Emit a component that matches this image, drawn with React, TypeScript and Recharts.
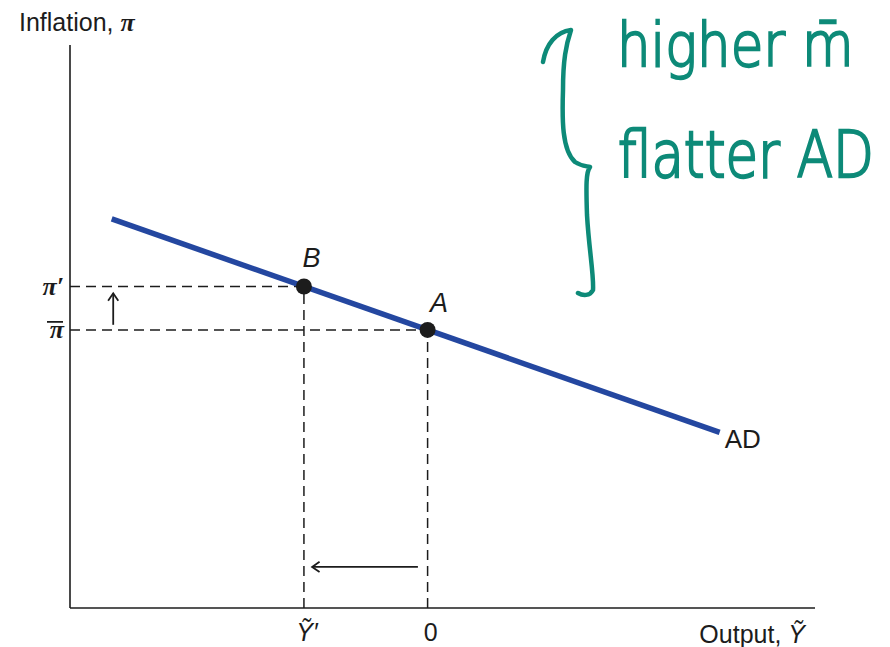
import { ComposedChart, Line, Scatter, XAxis, YAxis, ReferenceLine, LabelList, Label } from 'recharts';

// AD curve end points (output gap, inflation) in plot units
const adOutput = [5.6, 87.2];
const adInflation = [69.1, 31.2];

// equilibrium points on the curve
const pointNames = ['B', 'A'];
const pointOutput = [31.4, 48];
const pointInflation = [57.1, 49.4];

const outputTickLabels = ['Y\u0303\u2032', '0'];
const inflationTickLabels = ['\u03c0\u2032', '\u03c0'];
const noteLines = ['higher m\u0304', 'flatter AD'];

const adData = adOutput.map((x, i) => ({ x, y: adInflation[i] }));
const pointData = pointNames.map((name, i) => ({ name, x: pointOutput[i], y: pointInflation[i] }));

const SANS = '"Liberation Sans", Arial, sans-serif';
const SERIF = '"Liberation Serif", "Times New Roman", serif';
const HAND = '"DejaVu Sans", sans-serif';
const INK = '#1c1c1c';
const AD_BLUE = '#2447a0';
const PEN = '#0d8a78';

const dash = { stroke: INK, strokeWidth: 1.5, strokeDasharray: '10 6' };

function Arrow(props: any) {
  const { x1, y1, x2, y2 } = props;
  const ang = Math.atan2(y2 - y1, x2 - x1);
  const len = 9;
  const a1 = ang + Math.PI - 0.6;
  const a2 = ang + Math.PI + 0.6;
  return (
    <g stroke={INK} strokeWidth={1.8} fill="none">
      <line x1={x1} y1={y1} x2={x2} y2={y2} />
      <polyline
        points={`${x2 + len * Math.cos(a1)},${y2 + len * Math.sin(a1)} ${x2},${y2} ${x2 + len * Math.cos(a2)},${y2 + len * Math.sin(a2)}`}
      />
    </g>
  );
}

function InflationTick({ x, y, index }: any) {
  const right = x + 2;
  return (
    <g>
      <text x={right} y={y + 8} textAnchor="end" fontFamily={SERIF} fontStyle="italic" fontWeight="bold" fontSize={26} fill={INK}>
        {inflationTickLabels[index]}
      </text>
      {index === 1 && <line x1={right - 17} x2={right - 1} y1={y - 8} y2={y - 8} stroke={INK} strokeWidth={1.8} />}
    </g>
  );
}

function OutputTick({ x, y, index }: any) {
  const italic = index === 0;
  return (
    <text x={x + 3} y={y + 25} textAnchor="middle" fontFamily={SANS} fontStyle={italic ? 'italic' : 'normal'} fontSize={25} fill={INK}>
      {outputTickLabels[index]}
    </text>
  );
}

function PointLabel({ x, y, value, index }: any) {
  const dx = index === 0 ? 12 : 16;
  const dy = index === 0 ? -15 : -13;
  return (
    <text x={x + dx} y={y + dy} textAnchor="middle" fontFamily={SANS} fontStyle="italic" fontSize={27} fill={INK}>
      {value}
    </text>
  );
}

function CurveLabel({ x, y, index }: any) {
  if (index !== adData.length - 1) return null;
  return (
    <text x={x + 5} y={y + 16} fontFamily={SANS} fontSize={26} fill={INK}>
      AD
    </text>
  );
}

// up arrow next to the inflation ticks, left arrow above the output axis
const upArrowX = 5.8;
const leftArrowY = 7.3;

export default function App() {
  return (
    <div style={{ position: 'absolute', left: 0, top: 0, width: 890, height: 647, background: '#fff' }}>
      <ComposedChart width={890} height={647} margin={{ top: 45, right: 75, bottom: 0, left: 0 }}>
        <XAxis
          type="number"
          dataKey="x"
          domain={[0, 100]}
          ticks={pointOutput}
          tick={<OutputTick />}
          tickLine={false}
          axisLine={{ stroke: INK, strokeWidth: 1.6 }}
          height={39}
          interval={0}
        >
          <Label
            content={({ viewBox }: any) => (
              <text x={viewBox.x + viewBox.width - 10} y={viewBox.y + 35} textAnchor="end" fontFamily={SANS} fontSize={25} fill={INK}>
                Output,{' '}
                <tspan fontStyle="italic">{'Y\u0303'}</tspan>
              </text>
            )}
          />
        </XAxis>
        <YAxis
          type="number"
          dataKey="y"
          domain={[0, 100]}
          ticks={pointInflation}
          tick={<InflationTick />}
          tickLine={false}
          axisLine={{ stroke: INK, strokeWidth: 1.6 }}
          width={70}
          interval={0}
        >
          <Label
            content={({ viewBox }: any) => (
              <text x={viewBox.x + 19} y={viewBox.y - 14} fontFamily={SANS} fontSize={25} fill={INK}>
                Inflation,{' '}
                <tspan fontFamily={SERIF} fontStyle="italic" fontWeight="bold" fontSize={26}>
                  {'\u03c0'}
                </tspan>
              </text>
            )}
          />
        </YAxis>

        {/* guide lines from each point to both axes */}
        <ReferenceLine segment={[{ x: 0, y: pointInflation[0] }, { x: pointOutput[0], y: pointInflation[0] }]} {...dash} />
        <ReferenceLine segment={[{ x: 0, y: pointInflation[1] }, { x: pointOutput[1], y: pointInflation[1] }]} {...dash} />
        <ReferenceLine segment={[{ x: pointOutput[0], y: 0 }, { x: pointOutput[0], y: pointInflation[0] }]} {...dash} />
        <ReferenceLine segment={[{ x: pointOutput[1], y: 0 }, { x: pointOutput[1], y: pointInflation[1] }]} {...dash} />

        <ReferenceLine
          segment={[{ x: upArrowX, y: pointInflation[1] + 0.9 }, { x: upArrowX, y: pointInflation[0] - 1.2 }]}
          shape={<Arrow />}
        />
        <ReferenceLine
          segment={[{ x: pointOutput[1] - 1.3, y: leftArrowY }, { x: pointOutput[0] + 1.1, y: leftArrowY }]}
          shape={<Arrow />}
        />

        <Line data={adData} dataKey="y" type="linear" stroke={AD_BLUE} strokeWidth={5.5} dot={false} isAnimationActive={false}>
          <LabelList dataKey="y" content={<CurveLabel />} />
        </Line>
        <Scatter data={pointData} dataKey="y" fill={INK} shape={(p: any) => <circle cx={p.cx} cy={p.cy} r={8} fill={INK} />} isAnimationActive={false}>
          <LabelList dataKey="name" content={<PointLabel />} />
        </Scatter>
      </ComposedChart>

      {/* handwritten note with a curly brace */}
      <svg width={890} height={647} style={{ position: 'absolute', left: 0, top: 0, pointerEvents: 'none' }}>
        <path
          d="M543 62 C546 44 556 32 571 30 C566 45 563 60 563 90 C562 120 562 150 575 162 C581 166 586 166 590 167 C586 172 586 185 587 215 C589 250 594 275 593 290 C590 296 583 296 578 293"
          fill="none"
          stroke={PEN}
          strokeWidth={4.5}
          strokeLinecap="round"
          strokeLinejoin="round"
        />
        <g fill={PEN} stroke={PEN} strokeWidth={2} fontFamily={HAND} fontWeight={200} fontSize={53}>
          <text transform="translate(617 66) scale(1 1.15)">{noteLines[0]}</text>
          <text transform="translate(618 177) scale(1 1.2)">{noteLines[1]}</text>
        </g>
      </svg>
    </div>
  );
}
